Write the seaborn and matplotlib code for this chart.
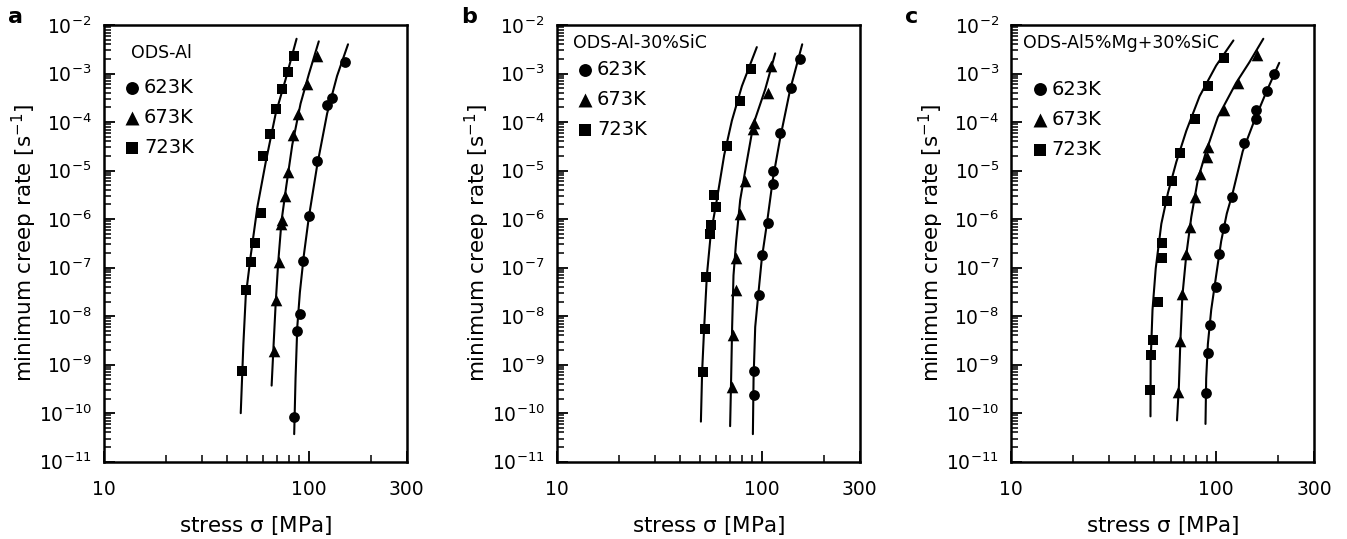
import numpy as np
import pandas as pd
import matplotlib
matplotlib.use("Agg")
import matplotlib.pyplot as plt
import matplotlib.ticker as mticker
import seaborn as sns

# ──────────────────────────────
#  Data (stress in MPa, rate in 1/s)
# ──────────────────────────────
PANELS = ["a", "b", "c"]
TITLES = ["ODS-Al", "ODS-Al-30%SiC", "ODS-Al5%Mg+30%SiC"]
TEMPS = ["623K", "673K", "723K"]
MARKERS = ["o", "^", "s"]

# panel a : ODS-Al
a_623_s = [84.2, 87.8, 90.1, 93.9, 100.0, 109.8, 122.8, 129.9, 149.6]
a_623_r = [8.3e-11, 4.9e-9, 1.1e-8, 1.4e-7, 1.17e-6, 1.59e-5, 2.2e-4, 3.2e-4, 1.7e-3]
a_673_s = [67.8, 69.4, 71.5, 72.8, 74.0, 76.4, 79.3, 83.6, 88.4, 98.1, 109.0]
a_673_r = [1.9e-9, 2.1e-8, 1.29e-7, 8.0e-7, 9.7e-7, 3.05e-6, 9.3e-6, 5.4e-5, 1.5e-4, 6.2e-4, 2.3e-3]
a_723_s = [47.1, 49.6, 52.4, 54.6, 58.2, 59.5, 64.6, 68.9, 74.2, 79.1, 84.2]
a_723_r = [7.5e-10, 3.5e-8, 1.33e-7, 3.2e-7, 1.35e-6, 2.0e-5, 5.8e-5, 1.9e-4, 4.9e-4, 1.1e-3, 2.3e-3]
a_623_fit_s = [84.8, 86.1, 87.8, 90.4, 94.6, 100.0, 109.8, 122.8, 137.3, 155.3]
a_623_fit_r = [3.7e-11, 5.2e-10, 6.0e-9, 3.1e-8, 1.85e-7, 1.1e-6, 1.28e-5, 1.5e-4, 8.9e-4, 4.0e-3]
a_673_fit_s = [65.8, 67.3, 68.9, 70.9, 73.6, 77.6, 83.0, 91.1, 100.0, 111.8]
a_673_fit_r = [3.7e-10, 2.65e-9, 1.9e-8, 1.33e-7, 9.4e-7, 4.8e-6, 3.4e-5, 2.4e-4, 9.7e-4, 4.6e-3]
a_723_fit_s = [46.5, 47.9, 49.2, 52.1, 56.1, 61.6, 68.9, 77.0, 87.1]
a_723_fit_r = [1.0e-10, 2.65e-9, 2.6e-8, 1.85e-7, 1.8e-6, 1.5e-5, 1.5e-4, 7.6e-4, 5.2e-3]

# panel b : ODS-Al-30%SiC
b_623_s = [91.7, 91.7, 96.7, 100.0, 106.6, 113.2, 113.2, 122.9, 138.6, 153.9]
b_623_r = [2.4e-10, 7.5e-10, 2.7e-8, 1.79e-7, 8.3e-7, 5.2e-6, 1.0e-5, 6.0e-5, 5.0e-4, 2.0e-3]
b_673_s = [71.4, 72.2, 74.9, 74.7, 77.8, 82.3, 91.0, 91.7, 107.0, 111.0]
b_673_r = [3.4e-10, 4.0e-9, 3.4e-8, 1.57e-7, 1.3e-6, 6.2e-6, 7.1e-5, 9.5e-5, 4.0e-4, 1.4e-3]
b_723_s = [51.5, 52.5, 53.2, 55.9, 56.2, 59.6, 58.7, 67.5, 77.8, 88.4]
b_723_r = [6.95e-10, 5.5e-9, 6.4e-8, 4.9e-7, 7.4e-7, 1.75e-6, 3.2e-6, 3.25e-5, 2.7e-4, 1.24e-3]
b_623_fit_s = [90.4, 91.1, 92.8, 96.3, 100.0, 105.8, 113.2, 122.9, 137.5, 157.4]
b_623_fit_r = [3.7e-11, 5.2e-10, 6.0e-9, 3.1e-8, 1.57e-7, 8.0e-7, 6.7e-6, 4.7e-5, 4.7e-4, 4.0e-3]
b_673_fit_s = [70.0, 70.8, 71.6, 72.7, 74.9, 78.4, 83.8, 91.0, 103.8, 116.2]
b_673_fit_r = [5.4e-11, 5.2e-10, 6.0e-9, 6.9e-8, 3.5e-7, 2.5e-6, 1.28e-5, 9.1e-5, 4.7e-4, 2.6e-3]
b_723_fit_s = [50.4, 51.1, 52.3, 53.9, 56.3, 60.3, 65.5, 71.4, 79.9, 94.5]
b_723_fit_r = [6.7e-11, 7.2e-10, 6.0e-9, 6.9e-8, 4.9e-7, 2.5e-6, 2.1e-5, 1.07e-4, 5.5e-4, 3.5e-3]

# panel c : ODS-Al5%Mg+30%SiC
c_623_s = [89.4, 91.1, 93.5, 99.3, 103.0, 109.0, 119.6, 137.3, 156.5, 156.5, 176.4, 192.1]
c_623_r = [2.6e-10, 1.7e-9, 6.5e-9, 3.9e-8, 1.9e-7, 6.6e-7, 2.9e-6, 3.7e-5, 1.16e-4, 1.75e-4, 4.3e-4, 9.7e-4]
c_673_s = [65.1, 66.3, 68.1, 71.5, 74.7, 79.1, 83.6, 90.4, 91.1, 109.8, 128.4, 157.7]
c_673_r = [2.7e-10, 3.1e-9, 2.8e-8, 1.9e-7, 6.8e-7, 2.9e-6, 8.5e-6, 1.9e-5, 3.0e-5, 1.8e-4, 6.4e-4, 2.4e-3]
c_723_s = [47.4, 48.3, 49.2, 52.2, 54.6, 54.4, 57.6, 60.7, 66.8, 79.1, 91.1, 109.8]
c_723_r = [3.0e-10, 1.6e-9, 3.2e-9, 2.0e-8, 1.57e-7, 3.2e-7, 2.4e-6, 6.0e-6, 2.3e-5, 1.18e-4, 5.5e-4, 2.1e-3]
c_623_fit_s = [88.7, 89.4, 91.1, 94.6, 100.0, 105.8, 112.7, 120.5, 134.8, 153.6, 175.0, 203.2]
c_623_fit_r = [6.0e-11, 5.2e-10, 2.65e-9, 1.35e-8, 6.9e-8, 3.5e-7, 1.3e-6, 3.5e-6, 2.5e-5, 1.07e-4, 4.0e-4, 1.66e-3]
c_673_fit_s = [64.4, 65.8, 66.8, 68.4, 71.5, 75.6, 81.5, 89.4, 101.9, 125.1, 145.2, 169.9]
c_673_fit_r = [7.1e-11, 3.7e-10, 2.65e-9, 2.6e-8, 1.85e-7, 1.1e-6, 6.7e-6, 2.5e-5, 1.26e-4, 6.4e-4, 1.7e-3, 5.2e-3]
c_723_fit_s = [47.8, 47.9, 48.9, 50.7, 54.0, 58.2, 63.9, 71.5, 83.0, 100.0, 121.4]
c_723_fit_r = [8.6e-11, 1.17e-9, 1.35e-8, 9.6e-8, 8.0e-7, 3.5e-6, 1.5e-5, 6.6e-5, 3.4e-4, 1.46e-3, 4.8e-3]

points = {
    "a": [(a_623_s, a_623_r), (a_673_s, a_673_r), (a_723_s, a_723_r)],
    "b": [(b_623_s, b_623_r), (b_673_s, b_673_r), (b_723_s, b_723_r)],
    "c": [(c_623_s, c_623_r), (c_673_s, c_673_r), (c_723_s, c_723_r)],
}
fits = {
    "a": [(a_623_fit_s, a_623_fit_r), (a_673_fit_s, a_673_fit_r), (a_723_fit_s, a_723_fit_r)],
    "b": [(b_623_fit_s, b_623_fit_r), (b_673_fit_s, b_673_fit_r), (b_723_fit_s, b_723_fit_r)],
    "c": [(c_623_fit_s, c_623_fit_r), (c_673_fit_s, c_673_fit_r), (c_723_fit_s, c_723_fit_r)],
}

# ──────────────────────────────
#  Style
# ──────────────────────────────
sns.set_style("ticks")
plt.rcParams["font.family"] = ["DejaVu Sans"]
plt.rcParams["mathtext.default"] = "regular"
plt.rcParams["axes.linewidth"] = 1.8
plt.rcParams["axes.edgecolor"] = "black"
plt.rcParams["text.color"] = "black"
plt.rcParams["axes.labelcolor"] = "black"
plt.rcParams["xtick.color"] = "black"
plt.rcParams["ytick.color"] = "black"
plt.rcParams["xtick.direction"] = "in"
plt.rcParams["ytick.direction"] = "in"

fig = plt.figure(figsize=(13.47, 5.39), dpi=100)

lefts = [104.0 / 1347, 557.0 / 1347, 1011.3 / 1347]
ax_w = 302.6 / 1347
ax_b = 1 - 461.7 / 539
ax_h = 436.7 / 539

title_x = [0.089, 0.052, 0.038]
title_y = [0.935, 0.959, 0.959]
leg_y = [0.879, 0.92, 0.875]
label_x = [8, 461, 905]

for i, p in enumerate(PANELS):
    ax = fig.add_axes([lefts[i], ax_b, ax_w, ax_h])

    for (fs, fr) in fits[p]:
        sns.lineplot(x=fs, y=fr, ax=ax, sort=False, estimator=None,
                     color="black", lw=1.5, zorder=2)
    for k, (s, r) in enumerate(points[p]):
        sns.scatterplot(x=s, y=r, ax=ax, marker=MARKERS[k], s=60 if k != 1 else 70,
                        color="black", edgecolor="black", linewidth=0,
                        label=TEMPS[k], zorder=3)

    ax.set_xscale("log")
    ax.set_yscale("log")
    ax.set_xlim(10, 300)
    ax.set_ylim(1e-11, 1e-2)

    ax.yaxis.set_major_locator(mticker.LogLocator(base=10, numticks=20))
    ax.yaxis.set_minor_locator(mticker.LogLocator(base=10, subs=np.arange(2, 10), numticks=20))
    ax.yaxis.set_minor_formatter(mticker.NullFormatter())
    ax.xaxis.set_major_locator(mticker.FixedLocator([10, 100, 300]))
    ax.xaxis.set_major_formatter(mticker.FixedFormatter(["10", "100", "300"]))
    ax.xaxis.set_minor_locator(mticker.FixedLocator([20, 30, 40, 50, 60, 70, 80, 90, 200]))
    ax.xaxis.set_minor_formatter(mticker.NullFormatter())

    ax.tick_params(which="major", length=8, width=1.3, labelsize=13.5)
    ax.tick_params(axis="y", which="major", pad=9)
    ax.tick_params(axis="x", which="major", pad=13)
    ax.tick_params(which="minor", length=5, width=1.1)
    ax.tick_params(top=False, right=False, which="both")

    ax.set_xlabel(r"stress $\sigma$ [MPa]", fontsize=15.5, labelpad=11)
    ax.set_ylabel(r"minimum creep rate [s$^{-1}$]", fontsize=15.5, labelpad=0)

    ax.text(title_x[i], title_y[i], TITLES[i], transform=ax.transAxes,
            fontsize=12.5, ha="left", va="center")
    ax.legend(loc="upper left", bbox_to_anchor=(0.055, leg_y[i]), frameon=False,
              fontsize=14, handletextpad=0.0, labelspacing=0.58, markerscale=1.2,
              borderpad=0, borderaxespad=0, handlelength=1.2)

    fig.text(label_x[i] / 1347, 1 - 17 / 539, p, fontsize=16, fontweight="bold",
             ha="left", va="center")

fig.savefig("out.png", dpi=100)
